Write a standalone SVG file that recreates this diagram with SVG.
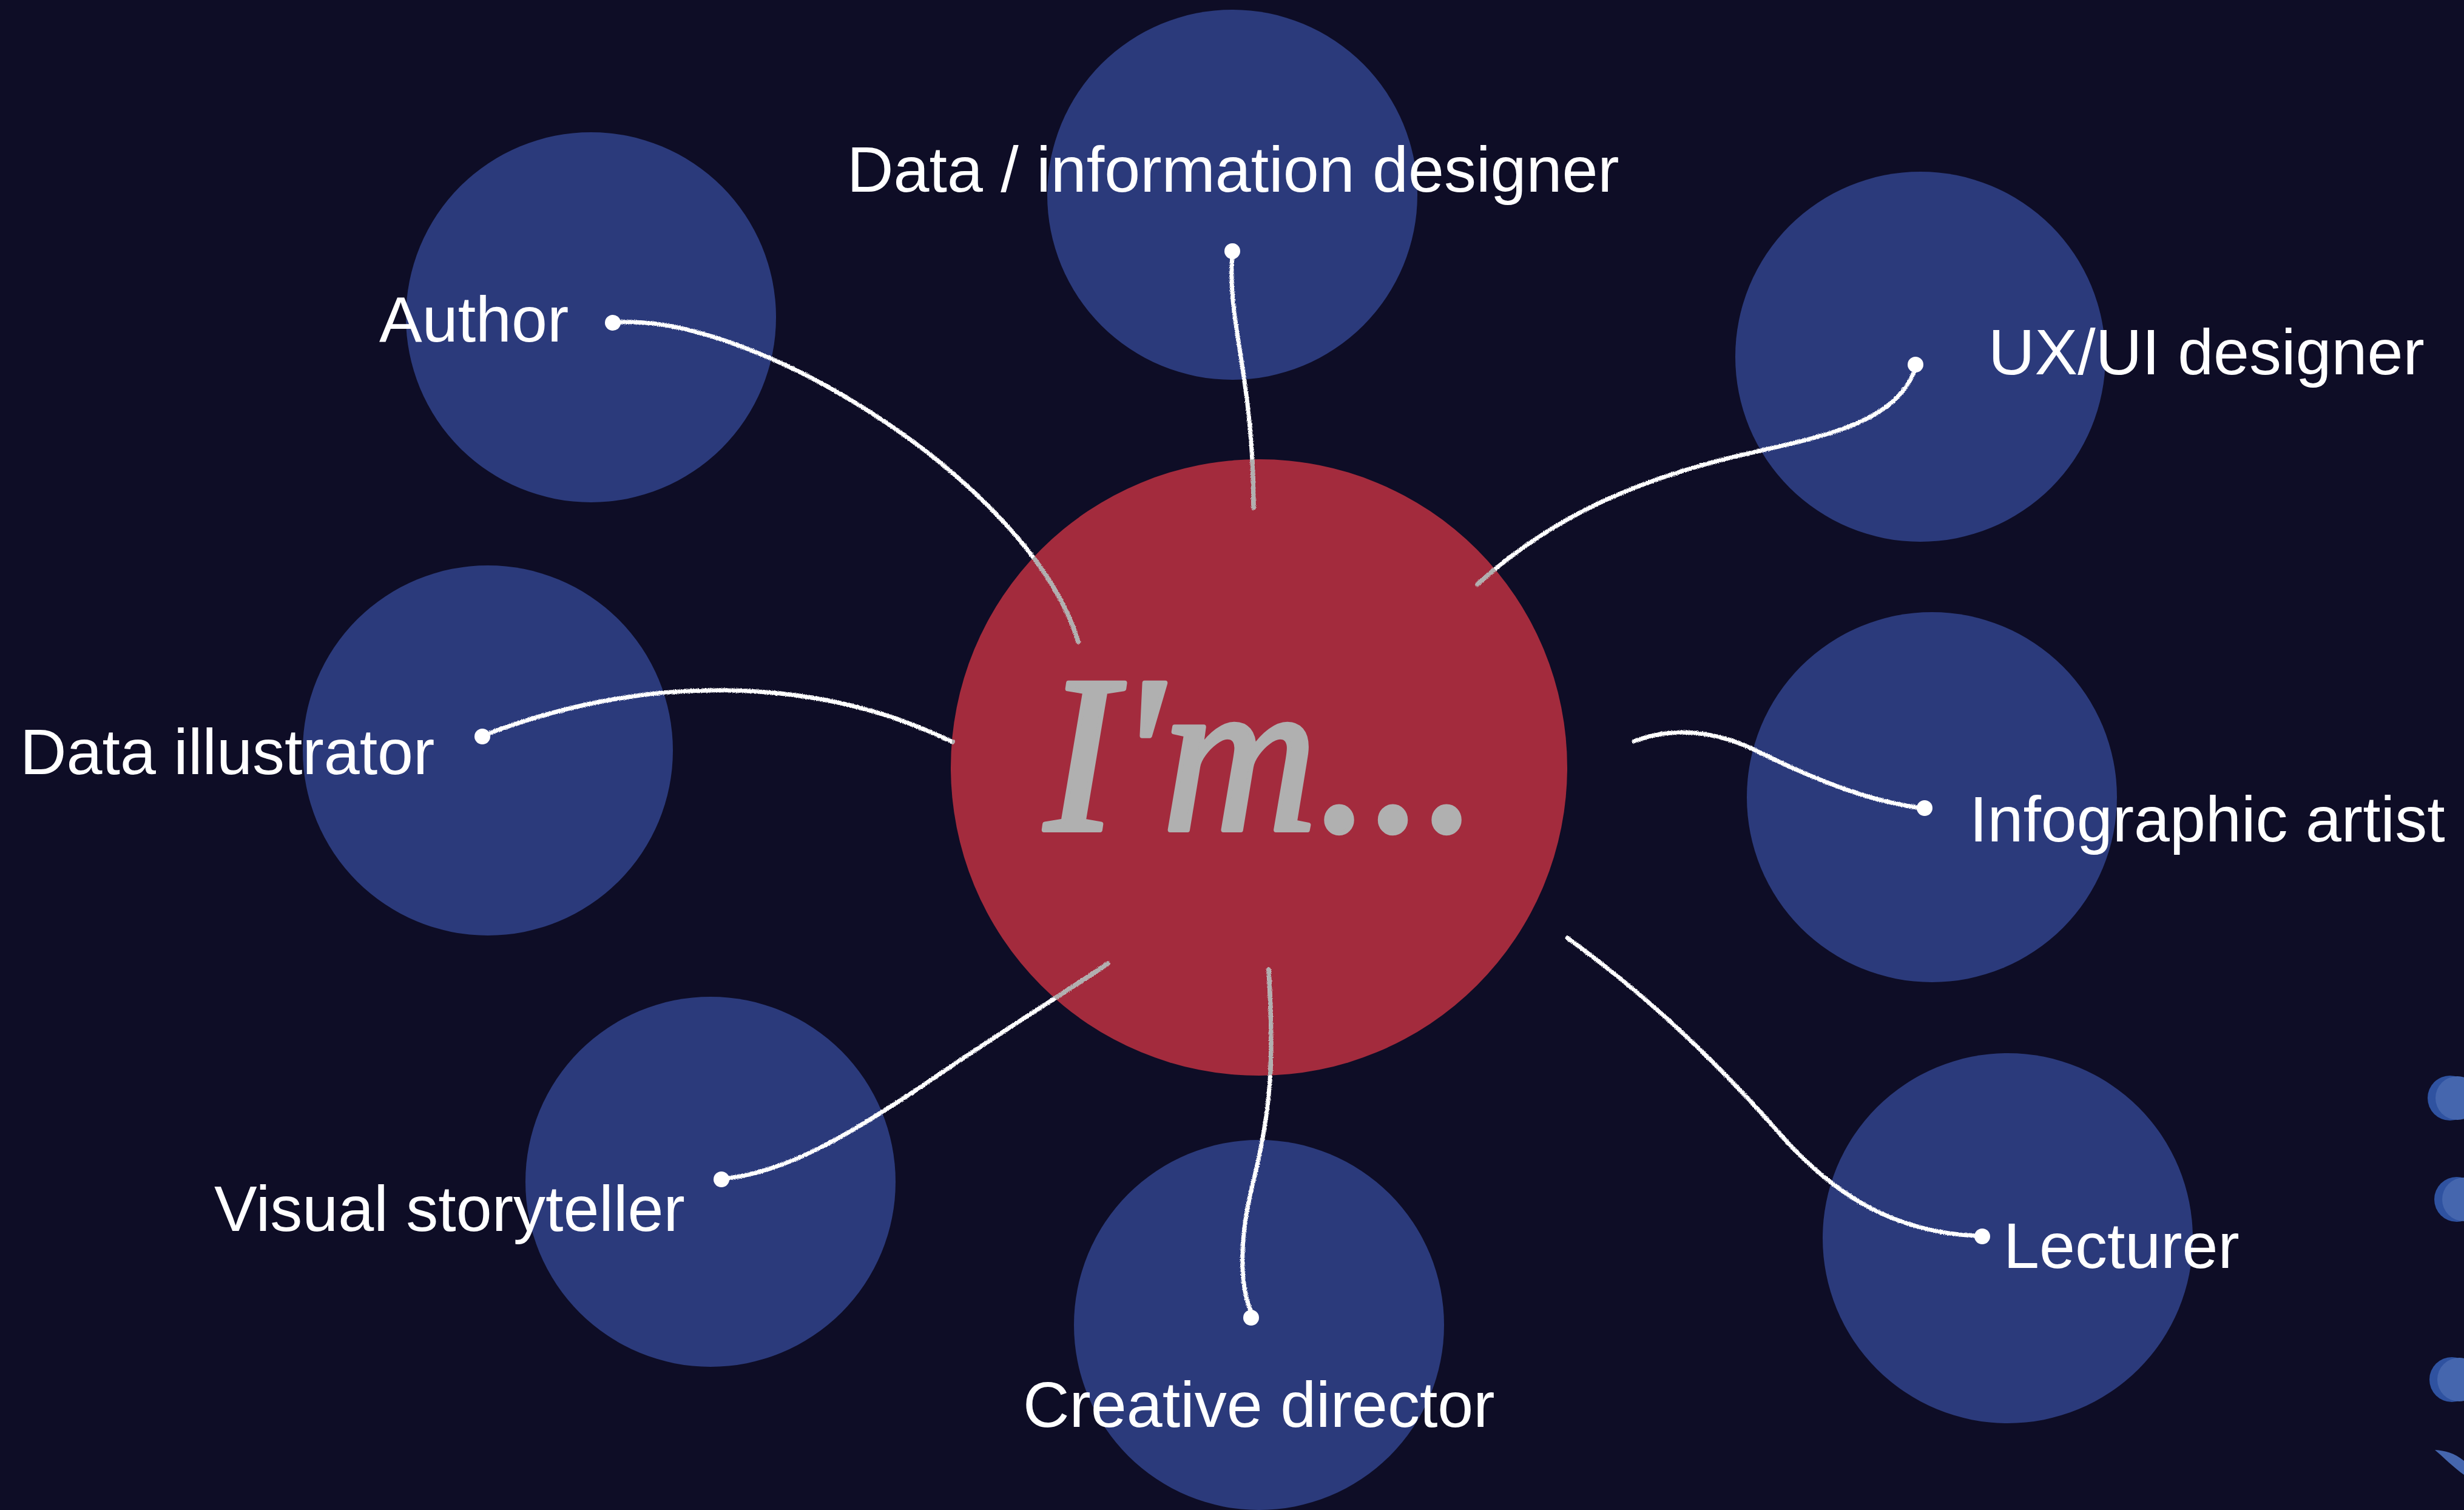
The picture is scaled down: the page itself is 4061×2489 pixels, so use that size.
<svg xmlns="http://www.w3.org/2000/svg" xmlns:xlink="http://www.w3.org/1999/xlink" width="4061" height="2489" viewBox="0 0 4061 2489">
<style>
.bubble{fill:#2b3a7b}
.label{font-family:"Liberation Sans",Arial,sans-serif;font-size:106px;fill:#ffffff}
.wire{fill:none;stroke:#ffffff;stroke-width:7;stroke-linecap:round}
.wire-in{fill:none;stroke:#b0b0b0;stroke-width:7;stroke-linecap:round}
.dot{fill:#ffffff}
.deco-d{fill:#2f52a0}
.deco-l{fill:#4566ae}
.hand{font-family:"Liberation Serif","Times New Roman",serif;font-size:370px;font-style:italic;fill:#b0b0b0;stroke:#b0b0b0;stroke-width:8;stroke-linejoin:round;stroke-linecap:round}
</style>
<defs>
<filter id="chalk" filterUnits="userSpaceOnUse" x="0" y="0" width="4061" height="2489">
<feTurbulence type="fractalNoise" baseFrequency="0.9" numOctaves="2" seed="3" result="n"/>
<feDisplacementMap in="SourceGraphic" in2="n" scale="4" xChannelSelector="R" yChannelSelector="G"/>
</filter>
<clipPath id="redclip"><circle cx="2075" cy="1265" r="508"/></clipPath>
<path id="p-author" d="M1022,531 C1250,520 1700,800 1777,1058"/>
<path id="p-data" d="M2031,422 C2022,530 2066,620 2066,837"/>
<path id="p-ux" d="M3155,612 C3120,700 3000,720 2870,750 C2700,790 2560,850 2435,963"/>
<path id="p-illus" d="M808,1208 C950,1155 1100,1130 1250,1140 C1400,1150 1500,1190 1570,1223"/>
<path id="p-info" d="M2693,1222 C2750,1200 2820,1200 2900,1240 C2990,1285 3080,1320 3160,1331"/>
<path id="p-visual" d="M1200,1942 C1300,1930 1400,1870 1520,1790 C1650,1700 1750,1640 1826,1588"/>
<path id="p-creative" d="M2091,1598 C2100,1750 2095,1830 2065,1950 C2040,2050 2045,2120 2061,2160"/>
<path id="p-lect" d="M2583,1546 C2700,1630 2820,1740 2930,1865 C3030,1980 3130,2030 3255,2037"/>
</defs>
<rect width="4061" height="2489" fill="#0e0d26"/>

<g id="node-data-designer"><circle class="bubble" cx="2031" cy="321" r="305"/></g>
<g id="node-author"><circle class="bubble" cx="974" cy="523" r="305"/></g>
<g id="node-uxui"><circle class="bubble" cx="3165" cy="588" r="305"/></g>
<g id="node-data-illustrator"><circle class="bubble" cx="804" cy="1237" r="305"/></g>
<g id="node-infographic"><circle class="bubble" cx="3184" cy="1314" r="305"/></g>
<g id="node-visual"><circle class="bubble" cx="1171" cy="1948" r="305"/></g>
<g id="node-creative"><circle class="bubble" cx="2075" cy="2184" r="305"/></g>
<g id="node-lecturer"><circle class="bubble" cx="3309" cy="2041" r="305"/></g>

<g id="node-center">
<circle cx="2075" cy="1265" r="508" fill="#a32b3d"/>
<text class="hand" x="1722" y="1368" textLength="715" lengthAdjust="spacingAndGlyphs">I'm...</text>
</g>

<g id="connectors">
<g filter="url(#chalk)">
<use xlink:href="#p-author" class="wire"/>
<use xlink:href="#p-data" class="wire"/>
<use xlink:href="#p-ux" class="wire"/>
<use xlink:href="#p-illus" class="wire"/>
<use xlink:href="#p-info" class="wire"/>
<use xlink:href="#p-visual" class="wire"/>
<use xlink:href="#p-creative" class="wire"/>
<use xlink:href="#p-lect" class="wire"/>
</g>
<g clip-path="url(#redclip)">
<g filter="url(#chalk)">
<use xlink:href="#p-author" class="wire-in"/>
<use xlink:href="#p-data" class="wire-in"/>
<use xlink:href="#p-ux" class="wire-in"/>
<use xlink:href="#p-illus" class="wire-in"/>
<use xlink:href="#p-info" class="wire-in"/>
<use xlink:href="#p-visual" class="wire-in"/>
<use xlink:href="#p-creative" class="wire-in"/>
<use xlink:href="#p-lect" class="wire-in"/>
</g>
</g>
<circle class="dot" cx="1010" cy="532" r="13"/>
<circle class="dot" cx="2031" cy="414" r="13"/>
<circle class="dot" cx="3157" cy="601" r="13"/>
<circle class="dot" cx="795" cy="1214" r="13"/>
<circle class="dot" cx="3172" cy="1332" r="13"/>
<circle class="dot" cx="1189" cy="1944" r="13"/>
<circle class="dot" cx="2062" cy="2172" r="13"/>
<circle class="dot" cx="3267" cy="2038" r="13"/>
</g>

<g id="labels">
<text class="label" x="1396" y="316">Data / information designer</text>
<text class="label" x="625" y="563">Author</text>
<text class="label" x="3277" y="617">UX/UI designer</text>
<text class="label" x="33" y="1276">Data illustrator</text>
<text class="label" x="3246" y="1387">Infographic artist</text>
<text class="label" x="353" y="2029">Visual storyteller</text>
<text class="label" x="1686" y="2352">Creative director</text>
<text class="label" x="3302" y="2090">Lecturer</text>
</g>

<g id="edge-decoration">
<circle class="deco-d" cx="4038" cy="1810" r="37"/>
<circle class="deco-l" cx="4050" cy="1810" r="36"/>
<circle class="deco-d" cx="4049" cy="1977" r="37"/>
<circle class="deco-l" cx="4061" cy="1977" r="36"/>
<circle class="deco-d" cx="4041" cy="2274" r="37"/>
<circle class="deco-l" cx="4053" cy="2274" r="36"/>
<path class="deco-l" d="M4013,2390 C4030,2391 4045,2395 4061,2408 L4061,2431 C4045,2420 4025,2400 4013,2390 Z"/>
</g>
</svg>
